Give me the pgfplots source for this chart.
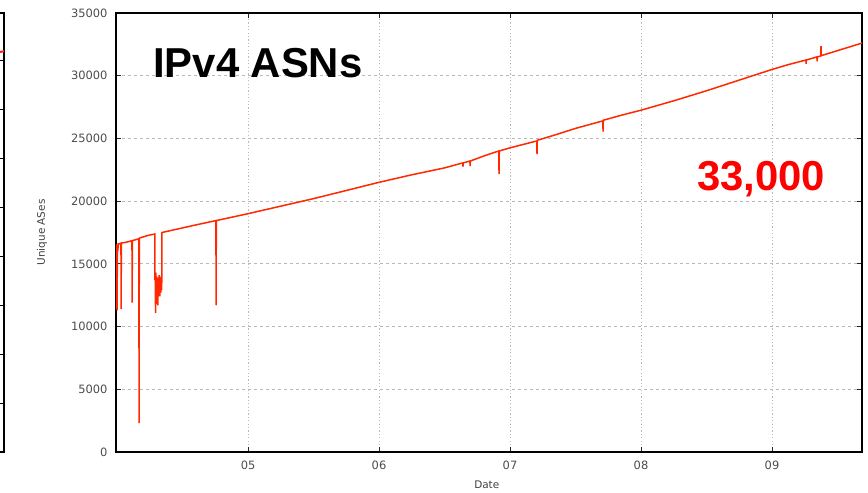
\documentclass[border=0pt]{standalone}
\usepackage{fontspec}
\setmainfont{DejaVu Sans}
\newfontfamily\arial{Liberation Sans}
\usepackage{pgfplots}
\pgfplotsset{compat=1.18}
\definecolor{asred}{RGB}{255,40,0}
\definecolor{gridgray}{RGB}{185,185,185}

\begin{document}
\begin{tikzpicture}
% cropped edge of the neighbouring chart
\begin{axis}[
    at={(-112bp,0)}, anchor=south east,
    scale only axis, width=200bp, height=439bp,
    xmin=0, xmax=1, ymin=0, ymax=8.96,
    ytick={0,...,8}, xtick=\empty,
    yticklabels={},
    ymajorgrids, major y grid style={gridgray, dash pattern=on 3bp off 3bp},
    axis line style={line width=1.2bp},
    major tick length=4bp, tick style={black, line width=0.8bp},
]
\addplot[asred, line width=2bp] coordinates {(0.90,8.10) (1.00,8.18)};
\end{axis}

\begin{axis}[
    at={(0,0)}, anchor=south west,
    scale only axis, width=746bp, height=439bp,
    xmin=2003.992, xmax=2009.687,
    ymin=0, ymax=35000,
    xtick={2005,2006,2007,2008,2009},
    xticklabels={05,06,07,08,09},
    ytick={0,5000,...,35000},
    scaled y ticks=false,
    /pgf/number format/1000 sep={},
    /pgf/number format/assume math mode=true,
    tick label style={font=\fontsize{11.5}{13}\selectfont, black!70},
    xticklabel style={anchor=center, yshift=-13bp},
    yticklabel style={xshift=-5bp},
    xmajorgrids, ymajorgrids,
    major x grid style={gridgray, line width=0.9bp, dash pattern=on 1.2bp off 2.2bp},
    major y grid style={gridgray, line width=0.9bp, dash pattern=on 3bp off 3bp},
    axis line style={line width=1.2bp},
    major tick length=5bp, tick style={black!85, line width=0.9bp},
    xlabel={Date}, ylabel={Unique ASes},
    label style={font=\fontsize{10.5}{12}\selectfont, black!75},
    xlabel style={at={(axis description cs:0.497,-0.075)}, anchor=center},
    ylabel style={at={(axis description cs:-0.0992,0.5)}, anchor=center},
]
\addplot[asred, line width=1.5bp] coordinates {
(2003.992,16550) (2003.994,11400) (2003.997,16500) (2004.000,11300)
(2004.003,16400) (2004.006,16000) (2004.009,16600) (2004.020,16600)
(2004.030,16650) (2004.031,11400) (2004.033,16650) (2004.080,16750)
(2004.114,16850) (2004.115,11900) (2004.117,16850) (2004.167,17000)
(2004.168,2300) (2004.170,17050) (2004.230,17250) (2004.288,17380)
(2004.289,13700) (2004.292,14100) (2004.294,11100) (2004.297,14300)
(2004.299,11800) (2004.302,14000) (2004.305,12200) (2004.308,13900)
(2004.311,11700) (2004.314,13800) (2004.318,12500) (2004.322,14100)
(2004.326,12400) (2004.330,13900) (2004.334,12700) (2004.338,14000)
(2004.341,12900) (2004.343,17500) (2004.450,17750) (2004.600,18100)
(2004.755,18450) (2004.756,11700) (2004.758,18450) (2005.000,19000)
(2005.250,19600) (2005.500,20200) (2005.750,20850) (2006.000,21500)
(2006.250,22100) (2006.500,22650) (2006.640,23050) (2006.641,22750)
(2006.643,23050) (2006.694,23200) (2006.695,22800) (2006.697,23200)
(2006.800,23600) (2006.915,24000) (2006.916,22150) (2006.918,24000)
(2007.000,24250) (2007.205,24800) (2007.206,23750) (2007.208,24850)
(2007.350,25300) (2007.500,25800) (2007.709,26400) (2007.710,25550)
(2007.712,26450) (2007.850,26850) (2008.000,27250) (2008.250,28000)
(2008.500,28800) (2008.750,29650) (2009.000,30500) (2009.130,30900)
(2009.259,31250) (2009.260,30950) (2009.262,31250)
(2009.343,31500) (2009.344,31150) (2009.346,31500) (2009.373,31580)
(2009.374,32350) (2009.376,31600) (2009.500,32000) (2009.687,32600)
};
\node[anchor=base west, inner sep=0pt, font=\arial\bfseries\fontsize{42}{46}\selectfont]
    at (rel axis cs:0.0496,0.854) {IPv4 ASNs};
\node[anchor=base west, inner sep=0pt, text={rgb,255:red,255;green,0;blue,0},
    font=\arial\bfseries\fontsize{42}{46}\selectfont]
    at (rel axis cs:0.7788,0.5968) {33,000};
\end{axis}
\pgfresetboundingbox
\path[use as bounding box] (-116bp,-41bp) rectangle (752bp,452bp);
\end{tikzpicture}
\end{document}
